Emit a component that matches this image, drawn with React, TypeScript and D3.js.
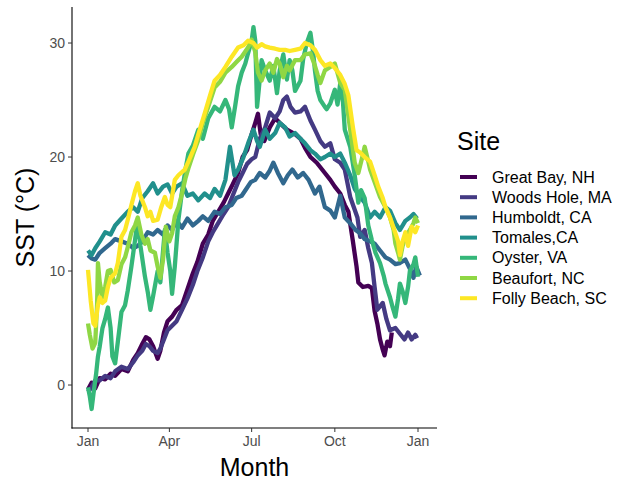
import React from 'react';
import * as d3 from 'd3';

// [day of year, SST °C]
const greatBay: [number, number][] = [
  [0, -0.4], [4, 0.2], [8, -0.3], [13, 0.6], [19, 0.5], [25, 1.0], [30, 0.8], [37, 1.4], [44, 1.2], [50, 2.2],
  [55, 2.8], [60, 3.6], [64, 4.2], [68, 4.0], [72, 3.4], [77, 2.3], [80, 3.0], [84, 4.6], [88, 5.6], [93, 6.0],
  [98, 6.6], [104, 7.0], [110, 8.4], [116, 9.8], [121, 10.8], [127, 12.4], [133, 13.2], [138, 14.4], [144, 15.2],
  [150, 16.0], [155, 16.8], [160, 17.6], [166, 18.6], [171, 20.0], [176, 20.6], [181, 22.0], [185, 23.0],
  [188, 23.8], [191, 22.0], [195, 21.4], [201, 22.6], [207, 23.4], [212, 23.0], [220, 22.4], [229, 22.0],
  [235, 21.6], [240, 20.8], [246, 20.0], [253, 19.5], [262, 18.6], [268, 18.0], [273, 17.4], [279, 16.8],
  [284, 15.8], [288, 15.2], [293, 12.6], [297, 10.4], [299, 9.0], [304, 8.6], [310, 8.7], [314, 8.5],
  [317, 6.5], [320, 5.4], [323, 4.0], [326, 3.1], [328, 2.6], [331, 3.8], [334, 3.4], [336, 4.6]
];
const woodsHole: [number, number][] = [
  [0, -0.6], [4, -0.2], [8, 0.4], [13, 0.4], [19, 0.8], [25, 0.6], [30, 1.2], [37, 1.6], [44, 1.4], [50, 2.0],
  [55, 2.6], [60, 3.0], [64, 3.6], [68, 3.4], [72, 3.0], [77, 2.8], [80, 3.2], [84, 4.0], [88, 4.8], [93, 5.2],
  [98, 5.6], [104, 6.6], [110, 7.6], [116, 8.8], [121, 10.0], [127, 11.2], [133, 12.6], [138, 13.4], [144, 14.2],
  [150, 15.0], [155, 15.6], [160, 16.6], [166, 17.8], [171, 18.6], [176, 19.4], [181, 19.8], [185, 20.0],
  [190, 21.6], [196, 22.6], [201, 23.9], [207, 23.4], [212, 24.0], [216, 25.0], [220, 25.3], [224, 24.4],
  [229, 23.9], [235, 24.0], [240, 24.4], [246, 23.2], [251, 22.4], [257, 21.4], [262, 20.9], [268, 21.2],
  [273, 19.8], [279, 19.5], [284, 18.9], [290, 16.5], [298, 14.7], [301, 13.0], [306, 13.6], [310, 12.0],
  [314, 10.7], [317, 8.6], [320, 6.6], [326, 7.2], [330, 5.8], [334, 4.8], [340, 5.0], [345, 4.5], [350, 4.0],
  [354, 4.6], [358, 4.0], [362, 4.4], [364, 4.1]
];
const humboldt: [number, number][] = [
  [0, 11.4], [4, 11.1], [8, 11.0], [13, 11.6], [19, 12.0], [25, 12.4], [30, 12.8], [37, 12.6], [44, 12.4],
  [50, 12.0], [55, 12.2], [60, 12.6], [66, 13.4], [72, 13.2], [77, 13.6], [83, 13.2], [88, 14.0], [93, 13.6],
  [98, 14.4], [104, 13.8], [110, 14.6], [116, 14.0], [122, 14.4], [127, 14.8], [133, 14.4], [140, 15.2],
  [146, 15.0], [152, 15.6], [159, 15.8], [164, 16.4], [170, 16.6], [175, 17.2], [180, 17.8], [185, 18.0],
  [190, 18.6], [196, 18.2], [201, 18.8], [205, 19.5], [210, 18.6], [216, 17.7], [221, 18.4], [226, 18.9],
  [232, 18.2], [238, 18.6], [244, 18.0], [251, 16.8], [256, 17.4], [262, 15.6], [268, 15.3], [273, 14.7],
  [279, 16.6], [284, 14.7], [290, 14.2], [296, 13.6], [301, 13.3], [306, 12.8], [312, 12.6], [317, 12.4],
  [323, 11.8], [329, 11.2], [334, 11.0], [340, 10.6], [345, 10.7], [351, 11.0], [356, 10.2], [360, 9.4],
  [363, 10.4], [367, 9.6]
];
const tomales: [number, number][] = [
  [0, 11.8], [4, 11.4], [8, 12.0], [13, 12.6], [19, 13.4], [25, 13.2], [30, 14.0], [37, 14.6], [44, 15.2],
  [50, 15.6], [55, 15.2], [60, 16.4], [66, 17.0], [72, 17.7], [77, 16.8], [83, 17.4], [88, 17.6], [93, 16.8],
  [98, 17.4], [104, 17.7], [110, 16.6], [116, 16.8], [122, 16.2], [129, 16.8], [135, 16.4], [140, 17.2],
  [146, 16.6], [152, 18.0], [157, 20.9], [162, 18.4], [166, 18.9], [172, 20.0], [178, 21.4], [183, 22.4],
  [187, 21.4], [190, 20.9], [196, 22.4], [201, 21.6], [207, 22.1], [212, 23.0], [218, 22.6], [223, 21.8],
  [229, 22.1], [235, 21.6], [240, 21.2], [246, 20.6], [251, 20.3], [257, 19.8], [262, 20.0], [268, 20.3],
  [273, 20.0], [279, 20.3], [284, 19.5], [290, 18.4], [295, 17.2], [301, 16.5], [306, 16.0], [312, 14.7],
  [317, 15.2], [323, 14.7], [329, 15.6], [334, 15.3], [340, 14.2], [345, 13.6], [351, 14.4], [356, 14.7],
  [360, 15.0], [364, 14.6]
];
const oyster: [number, number][] = [
  [0, -0.2], [2, -1.0], [4, -2.1], [6, -0.8], [9, 1.0], [11, 2.5], [13, 3.4], [16, 5.0], [19, 5.8], [22, 6.8],
  [25, 5.0], [27, 2.5], [30, 1.9], [33, 3.8], [37, 6.4], [41, 7.0], [44, 8.3], [48, 10.4], [52, 12.7],
  [55, 14.5], [58, 12.2], [63, 9.5], [66, 8.2], [69, 6.6], [72, 7.8], [77, 10.0], [80, 9.0], [85, 13.6],
  [88, 11.6], [91, 10.0], [93, 8.0], [96, 10.4], [100, 14.5], [104, 17.0], [108, 19.0], [111, 20.3],
  [116, 21.0], [122, 22.4], [127, 21.6], [133, 23.4], [140, 24.4], [146, 24.0], [152, 25.0], [156, 24.2],
  [159, 22.6], [163, 24.6], [166, 26.2], [170, 27.4], [174, 28.2], [177, 29.1], [181, 30.2], [183, 31.4],
  [185, 30.2], [187, 24.4], [189, 26.0], [192, 28.5], [196, 27.6], [201, 26.7], [205, 28.0], [209, 25.6],
  [212, 27.6], [216, 29.0], [220, 26.8], [223, 28.5], [226, 27.6], [229, 25.8], [235, 26.7], [238, 28.6],
  [242, 30.0], [246, 30.9], [249, 29.2], [251, 27.6], [254, 25.8], [257, 25.0], [262, 24.4], [264, 24.2],
  [268, 24.7], [273, 25.9], [276, 24.6], [279, 26.5], [282, 24.8], [284, 22.4], [290, 20.9], [295, 18.4],
  [299, 16.0], [302, 17.1], [306, 16.4], [310, 14.0], [314, 12.7], [318, 11.6], [323, 10.7], [327, 9.6],
  [329, 8.9], [334, 7.7], [337, 6.8], [340, 6.0], [343, 7.6], [345, 8.9], [348, 8.2], [351, 7.2], [354, 8.6],
  [356, 10.0], [360, 10.6], [362, 11.2], [365, 9.5]
];
const beaufort: [number, number][] = [
  [0, 5.4], [2, 4.4], [5, 3.2], [8, 3.7], [10, 7.0], [11, 10.7], [13, 9.0], [16, 7.7], [19, 8.6], [22, 10.0],
  [25, 10.1], [29, 9.0], [33, 9.2], [37, 10.6], [41, 11.2], [44, 12.1], [48, 13.4], [52, 14.0], [55, 14.7],
  [59, 13.2], [63, 12.4], [66, 12.8], [69, 11.8], [74, 11.6], [77, 10.4], [80, 9.4], [83, 11.0], [86, 13.9],
  [90, 12.6], [93, 13.3], [96, 14.8], [100, 15.6], [104, 16.8], [108, 18.2], [111, 19.0], [116, 20.2],
  [122, 21.5], [127, 23.0], [133, 24.4], [140, 26.1], [146, 26.6], [152, 27.4], [159, 27.9], [165, 28.4],
  [170, 28.8], [177, 29.6], [181, 30.3], [185, 29.2], [188, 27.4], [192, 26.7], [196, 27.6], [201, 28.2],
  [205, 27.4], [209, 28.6], [212, 28.2], [216, 27.0], [220, 28.0], [223, 27.6], [229, 28.5], [235, 28.5],
  [240, 29.0], [246, 29.1], [251, 28.0], [254, 27.2], [257, 26.5], [262, 27.6], [268, 27.9], [273, 28.2],
  [279, 26.5], [284, 25.9], [290, 22.4], [295, 19.5], [299, 18.6], [304, 20.2], [306, 20.9], [310, 19.6],
  [312, 18.9], [317, 17.8], [323, 16.5], [329, 15.6], [334, 14.7], [338, 13.6], [340, 12.4], [343, 11.6],
  [345, 11.0], [348, 12.2], [351, 13.0], [356, 13.6], [360, 14.2], [362, 14.7], [365, 14.2]
];
const follyBeach: [number, number][] = [
  [0, 10.1], [3, 7.4], [6, 5.4], [8, 5.2], [11, 7.0], [13, 7.7], [16, 7.2], [19, 7.4], [22, 8.6], [25, 9.4],
  [30, 9.8], [33, 10.7], [37, 13.0], [41, 13.6], [44, 14.5], [48, 15.8], [52, 17.0], [55, 17.7], [58, 16.6],
  [63, 15.6], [66, 14.8], [69, 15.2], [72, 14.4], [77, 14.5], [81, 15.6], [85, 16.5], [88, 15.8], [91, 15.6],
  [96, 18.0], [100, 18.4], [107, 18.9], [111, 19.6], [118, 20.9], [122, 22.0], [129, 23.8], [135, 25.4],
  [140, 26.7], [146, 27.2], [152, 27.9], [159, 28.8], [166, 29.6], [172, 29.8], [177, 30.2], [183, 30.0],
  [187, 29.6], [192, 29.9], [196, 29.7], [201, 29.6], [207, 29.5], [212, 29.4], [218, 29.4], [223, 29.3],
  [229, 29.4], [235, 29.5], [240, 30.0], [246, 29.8], [251, 29.4], [257, 28.5], [262, 28.0], [268, 28.2],
  [273, 27.8], [279, 27.2], [284, 26.4], [288, 25.4], [293, 22.6], [297, 20.6], [301, 20.4], [306, 20.0],
  [312, 19.6], [317, 18.4], [321, 17.4], [326, 16.4], [329, 15.6], [334, 14.7], [338, 13.8], [343, 12.6],
  [345, 11.4], [348, 12.6], [351, 13.4], [354, 12.2], [358, 13.9], [362, 13.4], [365, 14.0]
];

const sites = ['Great Bay, NH', 'Woods Hole, MA', 'Humboldt, CA', 'Tomales,CA', 'Oyster, VA', 'Beaufort, NC', 'Folly Beach, SC'];
const seriesData = [greatBay, woodsHole, humboldt, tomales, oyster, beaufort, follyBeach];
const palette = ['#440154', '#443A83', '#31688E', '#21908C', '#35B779', '#8FD744', '#FDE725'];
const monthTicks = ['2019-01-01', '2019-04-01', '2019-07-01', '2019-10-01', '2020-01-01'];
const sstTicks = [0, 10, 20, 30];

const DAY = 86400000;
const start = Date.UTC(2019, 0, 1);
const toDate = (d: number) => new Date(start + d * DAY);

export default function App() {
  const width = 621, height = 482;
  const left = 72, right = 437, top = 7, bottom = 428;

  const x = d3.scaleUtc().domain([toDate(-17.7), toDate(386)]).range([left, right]);
  const y = d3.scaleLinear().domain([-3.77, 33.16]).range([bottom, top]);
  const color = d3.scaleOrdinal<string, string>().domain(sites).range(palette);
  const fmt = d3.utcFormat('%b');

  const line = d3.line<[number, number]>()
    .x(d => x(toDate(d[0])))
    .y(d => y(d[1]));

  const font = '"Liberation Sans", Arial, sans-serif';

  return (
    <svg width={width} height={height} style={{ position: 'absolute', left: 0, top: 0, background: '#fff' }} fontFamily={font}>
      <rect width={width} height={height} fill="#fff" />
      {seriesData.map((s, i) => (
        <path key={sites[i]} d={line(s) || ''} fill="none" stroke={color(sites[i])}
          strokeWidth={4.3} strokeLinejoin="round" strokeLinecap="butt" />
      ))}

      {/* axes */}
      <line x1={left} x2={left} y1={top} y2={bottom + 0.5} stroke="#000" strokeWidth={1.1} />
      <line x1={left - 0.5} x2={right} y1={bottom} y2={bottom} stroke="#000" strokeWidth={1.1} />
      {monthTicks.map(t => {
        const d = new Date(t + 'T00:00:00Z');
        const px = x(d);
        return (
          <g key={t}>
            <line x1={px} x2={px} y1={bottom} y2={bottom + 4} stroke="#333" strokeWidth={1} />
            <text x={px} y={446} textAnchor="middle" fontSize={14} fill="#4D4D4D">{fmt(d)}</text>
          </g>
        );
      })}
      {sstTicks.map(t => (
        <g key={t}>
          <line x1={left - 4} x2={left} y1={y(t)} y2={y(t)} stroke="#333" strokeWidth={1} />
          <text x={left - 7} y={y(t)} dy="0.35em" textAnchor="end" fontSize={14} fill="#4D4D4D">{t}</text>
        </g>
      ))}

      <text x={(left + right) / 2} y={476} textAnchor="middle" fontSize={25} fill="#000">Month</text>
      <text transform={`translate(34,${(top + bottom) / 2}) rotate(-90)`} textAnchor="middle" fontSize={25} fill="#000">SST (°C)</text>

      {/* legend */}
      <text x={457} y={150} fontSize={25} fill="#000">Site</text>
      {sites.map((s, i) => {
        const cy = 177 + i * 20.2;
        return (
          <g key={s}>
            <line x1={460} x2={477} y1={cy} y2={cy} stroke={color(s)} strokeWidth={4} />
            <text x={492} y={cy} dy="0.35em" fontSize={16} fill="#000">{s}</text>
          </g>
        );
      })}
    </svg>
  );
}
